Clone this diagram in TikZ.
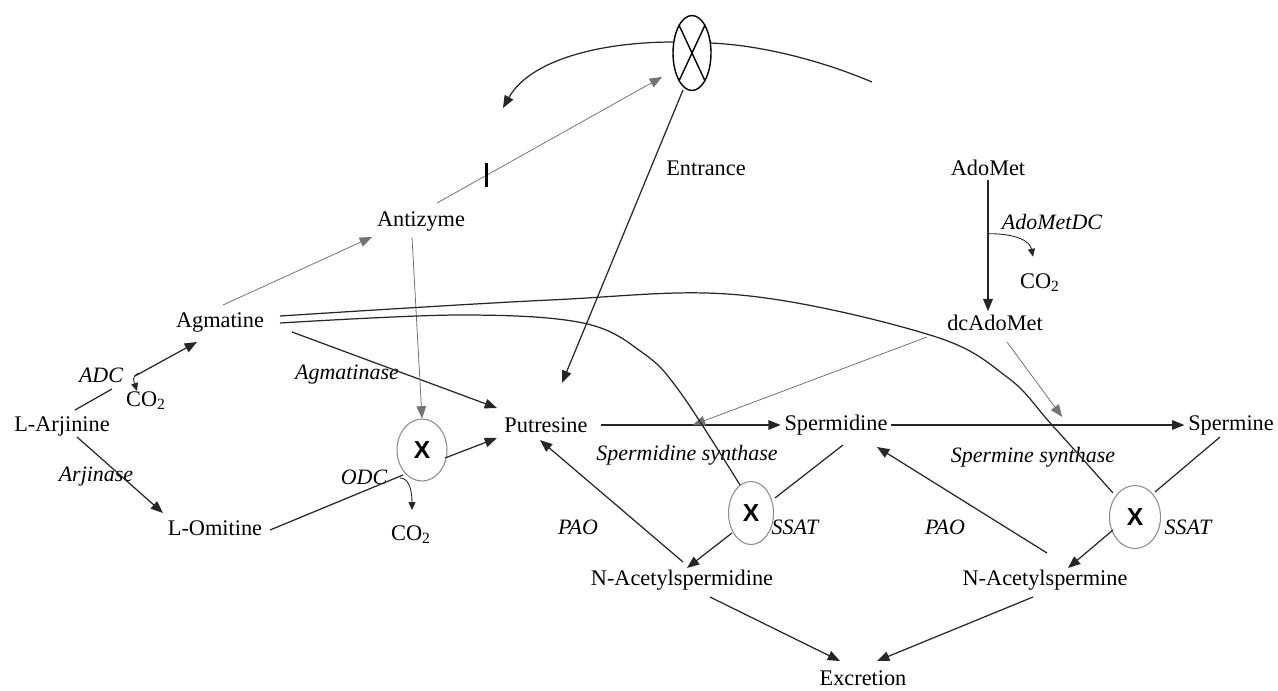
\documentclass[tikz,border=0pt]{standalone}
\usepackage{fontspec}
\setmainfont{Liberation Serif}
\newfontfamily\xfont{Liberation Sans}
\usetikzlibrary{arrows.meta,shapes.geometric,calc}
\tikzset{
 mol/.style={inner sep=2pt, font=\fontsize{12.7}{15}\selectfont},
 enz/.style={inner sep=1pt, font=\fontsize{12.5}{15}\selectfont\itshape},
 blk/.style={draw=black!85, line width=0.7pt},
 gry/.style={draw=black!55, line width=0.45pt},
 tip/.style={-{Triangle[length=7pt,width=5.5pt]}},
 stip/.style={-{Triangle[length=4.5pt,width=4pt]}},
 xell/.style={ellipse, draw=black!45, line width=0.6pt, inner sep=0pt, font=\xfont\bfseries\fontsize{14}{14}\selectfont},
}
\begin{document}
\begin{tikzpicture}[x=0.02cm,y=-0.02cm]
\useasboundingbox (0,0) rectangle (1278,690);
% molecules
\node[mol] (LArj) at (62,426) {L-Arjinine};
\node[mol] (Agm) at (220,323) {Agmatine};
\node[mol] (LOrn) at (215,528) {L-Omitine};
\node[mol] (Anti) at (421,222) {Antizyme};
\node[mol] (Put) at (546,425) {Putresine};
\node[mol] (Spd) at (836,425) {Spermidine};
\node[mol] (Spm) at (1231,425) {Spermine};
\node[mol] (NSpd) at (682,580) {N-Acetylspermidine};
\node[mol] (NSpm) at (1045,580) {N-Acetylspermine};
\node[mol] (Exc) at (863,678) {Excretion};
\node[mol] (Ado) at (988,168) {AdoMet};
\node[mol] (dcA) at (995,323) {dcAdoMet};
\node[mol] (Ent) at (706,168) {Entrance};
% blocked enzymes
\node[xell, minimum width=1cm, minimum height=1.24cm] (E1) at (422,450) {X};
\node[xell, minimum width=0.9cm, minimum height=1.26cm] (E2) at (751,513) {X};
\node[xell, minimum width=1.02cm, minimum height=1.26cm] (E3) at (1135,517) {X};
\node[ellipse, draw=black, line width=0.8pt, minimum width=0.76cm, minimum height=1.5cm, inner sep=0pt] (Ch) at (692,53) {};
\draw[line width=0.8pt] (Ch.115) -- (Ch.295);
\draw[line width=0.8pt] (Ch.65) -- (Ch.245);
% labels
\node[enz] (ADC) at (101,375) {ADC};
\node[mol] (co2a) at (146,401) {CO\textsubscript{2}};
\node[enz] (Arj) at (96,477) {Arjinase};
\node[enz] (Agmt) at (347,375) {Agmatinase};
\node[enz] (ODC) at (364,477) {ODC};
\node[mol] (co2b) at (411,535) {CO\textsubscript{2}};
\node[enz] (SdS) at (687,455) {Spermidine synthase};
\node[enz] (SmS) at (1033,457) {Spermine synthase};
\node[enz] (PAO1) at (578,527) {PAO};
\node[enz] (PAO2) at (945,527) {PAO};
\node[enz] (SSAT1) at (795,527) {SSAT};
\node[enz] (SSAT2) at (1188,527) {SSAT};
\node[enz] (AMDC) at (1052,222) {AdoMetDC};
\node[mol] (co2c) at (1040,283) {CO\textsubscript{2}};
% membrane
\coordinate (mL) at (503,108);
\coordinate (mR) at (872,82);
\draw[blk,tip] ($(Ch)+(-18,-11)$) .. controls (600,42) and (530,60) .. (mL);
\draw[blk] ($(Ch)+(18,-10)$) .. controls (760,45) and (820,60) .. (mR);
% left part
\draw[blk] ($(LArj)+(13,-16)$) -- ($(LArj)+(50,-37)$);
\draw[blk,tip] ($(LArj)+(73,-50)$) -- ($(Agm)+(-23,19)$);
\draw[blk,stip,line width=0.5pt] ($(LArj)+(77,-53)$) .. controls ($(LArj)+(69,-50)$) and ($(LArj)+(72,-44)$) .. ($(LArj)+(75,-35)$);
\draw[blk,tip] ($(LArj)+(15,11)$) -- ($(LOrn)+(-52,-15)$);
\draw[gry,tip] ($(Agm)+(3,-18)$) -- ($(Anti)+(-49,15)$);
\draw[blk,tip] ($(Agm)+(72,9)$) -- ($(Put)+(-49,-17)$);
\draw[gry,tip] ($(Anti)+(-9,15)$) -- (E1.north);
\draw[blk] ($(LOrn)+(55,2)$) -- ($(E1)+(-19,25)$);
\draw[blk,tip] ($(E1)+(23,8)$) -- ($(Put)+(-49,13)$);
\draw[blk,stip,line width=0.5pt] ($(E1)+(-22,28)$) .. controls ($(E1)+(-14,28)$) and ($(E1)+(-10,38)$) .. ($(E1)+(-10,60)$);
\draw[gry,tip] ($(Anti)+(16,-19)$) -- coordinate[pos=0.22] (bar) ($(Ch)+(-30,24)$);
\draw[line width=1.3pt] ($(bar)+(0,-12)$) -- ($(bar)+(0,12)$);
\draw[blk,tip] ($(Ch)+(-9,37)$) -- ($(Put)+(16,-42)$);
% main chain
\draw[blk,tip] ($(Put.east)+(10,0)$) -- coordinate[pos=0.51] (sds) (Spd.west);
\draw[gry,tip] ($(dcA)+(-68,14)$) -- (sds);
\draw[blk,tip] (Spd.east) -- coordinate[pos=0.583] (sps) (Spm.west);
\draw[gry,tip] ($(dcA)+(12,19)$) -- ($(sps)+(0,-8)$);
\draw[blk,tip] (Ado.south) -- coordinate[pos=0.41] (amd) (Ado.south |- dcA.north);
\draw[blk,stip,line width=0.5pt] (amd) .. controls ($(amd)+(30,0)$) and ($(amd)+(42,8)$) .. ($(amd)+(45,23)$);
% long curves from Agmatine
\coordinate (u0) at ($(Agm)+(60,-7)$);
\coordinate (u1) at ($(E3)+(-22,-24)$);
\draw[blk] plot[smooth,tension=0.6] coordinates {(u0) (550,300) (740,295) (930,335) (1007,377) (1052,425) (u1)};
\coordinate (l0) at ($(Agm)+(60,0)$);
\coordinate (l1) at ($(E2)+(-11,-28)$);
\draw[blk] plot[smooth,tension=0.6] coordinates {(l0) (460,315) (583,323) (643,353) (680,392) (l1)};
% PAO and SSAT
\draw[blk,tip] ($(NSpd)+(1,-18)$) -- ($(Put)+(-6,15)$);
\draw[blk,tip] ($(NSpm)+(2,-27)$) -- ($(Spd)+(41,22)$);
\draw[blk] ($(Spd)+(7,20)$) -- ($(E2)+(24,-15)$);
\draw[blk,tip] ($(E2)+(-19,20)$) -- ($(NSpd)+(5,-12)$);
\draw[blk] ($(Spm)+(-11,12)$) -- ($(E3)+(20,-25)$);
\draw[blk,tip] ($(E3)+(-22,13)$) -- ($(NSpm)+(23,-12)$);
% excretion
\draw[blk,tip] ($(NSpd)+(28,17)$) -- ($(Exc)+(-23,-17)$);
\draw[blk,tip] ($(NSpm)+(-12,17)$) -- ($(Exc)+(14,-17)$);
\end{tikzpicture}
\end{document}
